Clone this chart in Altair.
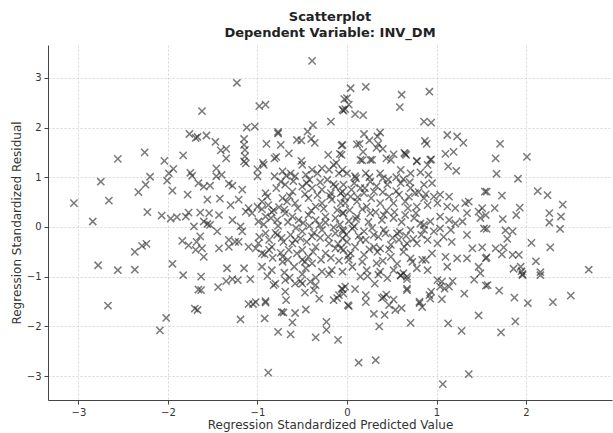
import altair as alt
import pandas as pd

# Outlying / sparse points (x = standardized predicted, y = standardized residual)
x_outer = [-2.56, -2.26, -2.04, -1.83, -1.76, -1.69, -0.39, -1.23, -1.62, -0.98, -0.91, -1.12, -1.03,
           -0.77, -0.77, -0.38, -0.18, -0.05, -0.03, -0.44, -0.40, -0.36, -0.56, -0.51, -0.90, -0.74,
           -0.65, -0.79, -0.81, -0.51, -0.21, -0.08, -0.05, -1.67, -1.57, -1.47, -1.41, -1.35, -1.35,
           -1.15, -1.15, -1.14, -1.14, -1.15, -0.94, -0.12,
           0.04, 0.21, 0.00, 0.02, -0.02, -0.04, 0.09, 0.18, 0.61, 0.59, 0.92, 0.86, 0.94, 1.12, 1.23,
           1.30, 1.10, 1.19, 0.87, 0.89, 0.65, 0.66, 0.64, 0.78, 0.94, 0.19, 0.14, 0.11, 0.37, 0.34,
           0.25, 0.35, 0.33, 0.40, 0.18, 0.52, 0.44, 0.17, 0.26, -0.06, -0.06,
           1.71, 1.66, 2.01,
           -1.94, -2.75, -3.05, -2.66, -2.84, -2.33, -2.25, -2.20, -2.01, -1.99, -1.95, -2.23, -2.07,
           -1.97, -1.90, -1.80, -1.77, -1.78, -1.75, -1.73, -1.71, -1.84, -1.77, -1.69, -1.68, -2.37,
           -2.29, -2.24, -2.78, -2.56, -2.37, -1.95, -1.83,
           -2.67, -2.02, -2.09, -1.70, -1.67, -1.66,
           1.57, 1.70, 1.87, 2.02, 2.30, 2.50, 1.88, 1.72, 1.96, 2.16,
           1.67, 1.91, 2.13, 2.24, 2.41, 1.73, 1.56, 1.65, 1.93, 1.89, 1.74, 1.55, 2.26, 2.26, 2.39,
           2.38, 1.56, 1.77, 1.85, 1.79, 2.06, 2.27, 1.66, 1.75, 1.73, 1.85, 1.92, 1.56, 2.11, 2.70,
           1.86, 1.94, 1.95, 1.96, 2.16,
           -1.63, -1.63, -1.44, -1.35, -1.28, -1.22, -1.08, -0.89, -1.10, -1.05, -1.02, -0.91, -0.91,
           -1.19, -0.92, -0.73, -0.71, -0.58, -0.46, -0.61, -0.77, -0.63, -0.35, -0.23, -0.23, -0.10,
           -0.88, -0.82, -0.80, -0.69, -0.68, -0.69, -0.64, -0.58, -0.52, -0.50, -0.47, -0.41, -0.37,
           -0.35, -0.31, -0.35, -0.15, -0.11, -0.09, -0.05,
           0.13, 0.32, 1.07, 1.36, 1.28, 1.13, 1.47, 1.31, 1.55, 1.42, 0.71, 0.36, 0.30, 0.42, 0.01,
           0.02, 0.21, 0.21, 0.39, 0.41, 0.44, 0.52, 0.54, 0.61, 0.47, 0.81, 0.84, 0.81, 0.92, 0.94,
           0.93, 1.06, 0.67, 0.67, 0.67, 1.01, 1.06, 1.09, 1.14, 1.18, 1.04, -0.06, -0.02, 0.09,
           -0.04, 0.31, 0.23, 0.45, 0.60, 0.67]
y_outer = [1.37, 1.50, 1.33, 1.44, 1.87, 1.79, 3.34, 2.90, 2.33, 2.43, 2.46, 2.00, 2.02,
           1.91, 1.88, 2.05, 2.12, 2.36, 2.57, 1.92, 1.77, 1.69, 1.75, 1.74, 1.67, 1.65,
           1.48, 1.41, 1.38, 1.33, 1.45, 1.47, 1.65, 1.81, 1.84, 1.71, 1.54, 1.57, 1.38,
           1.77, 1.65, 1.55, 1.42, 1.32, 1.29, 1.29,
           2.79, 2.82, 2.59, 2.46, 2.37, 2.34, 2.27, 2.25, 2.66, 2.41, 2.72, 2.12, 2.10, 1.85, 1.82,
           1.69, 1.47, 1.51, 1.73, 1.67, 1.47, 1.45, 1.49, 1.33, 1.36, 1.87, 1.67, 1.66, 1.90, 1.82,
           1.74, 1.67, 1.59, 1.57, 1.51, 1.46, 1.38, 1.34, 1.35, 1.64, 1.45,
           1.67, 1.38, 1.41,
           1.17, 0.91, 0.48, 0.53, 0.11, 0.70, 0.85, 1.01, 0.93, 1.08, 0.73, 0.30, 0.23,
           0.17, 0.20, 0.21, 0.29, 0.65, 1.09, 1.03, 0.01, -0.28, -0.37, -0.46, -0.30, -0.50,
           -0.38, -0.34, -0.77, -0.87, -0.86, -0.74, -0.97,
           -1.58, -1.83, -2.08, -1.64, -1.67, -1.26,
           -1.17, -1.28, -1.42, -1.53, -1.51, -1.38, -1.90, -2.12, -0.97, -0.97,
           1.07, 0.97, 0.72, 0.64, 0.45, 0.63, 0.71, 0.38, 0.39, 0.24, 0.16, 0.24, 0.28, 0.09, 0.21,
           -0.04, -0.04, -0.07, -0.09, -0.24, -0.32, -0.41, -0.43, -0.41, -0.55, -0.56, -0.56, -0.61, -0.69, -0.86,
           -0.84, -0.80, -0.89, -0.95, -0.91,
           -1.00, -1.27, -1.21, -1.09, -1.05, -1.07, -1.05, -0.99, -1.55, -1.55, -1.51, -1.49, -1.52,
           -1.86, -1.84, -1.71, -1.72, -1.73, -1.66, -1.92, -2.11, -2.16, -2.22, -1.91, -2.07, -2.27,
           -2.93, -1.17, -1.14, -1.30, -1.47, -1.07, -1.02, -1.14, -1.09, -1.14, -1.32, -1.10, -1.27,
           -1.17, -1.44, -1.02, -1.47, -1.43, -1.37, -1.25,
           -2.73, -2.68, -3.16, -2.96, -2.09, -1.94, -1.78, -1.34, -1.18, -1.06, -1.93, -2.00, -1.75, -1.77, -1.57,
           -1.59, -1.51, -1.37, -1.43, -1.41, -1.36, -1.46, -1.67, -1.63, -1.57, -1.50, -1.61, -1.53, -1.37, -1.30,
           -1.44, -1.45, -1.24, -1.27, -1.05, -1.07, -1.10, -1.24, -1.20, -1.09, -1.20, -1.24, -1.20, -1.25,
           -1.34, -1.14, -0.99, -1.03, -0.97, -1.00]

# Dense core, left half
x_core_l = [-1.13, -1.46, -1.40, -1.46, -1.00, -0.93, -1.00, -0.81, -0.72, -0.68, -0.63, -0.74, -0.58,
            -0.50, -0.46, -0.39, -0.42, -0.33, -0.28, -0.20, -0.15, -0.09, -0.05, -0.22,
            -1.66, -1.60, -1.53, -1.32, -1.28, -1.17, -0.91, -0.79, -0.69, -0.61, -0.50, -0.39, -0.28,
            -0.18, -0.13, -0.05,
            -1.56, -1.42, -1.30, -1.21, -1.10, -1.00, -0.95, -0.89, -0.82, -0.72, -0.67, -0.58, -0.43,
            -0.35, -0.28, -0.17, -0.07,
            -1.64, -1.54, -1.43, -1.60, -1.56, -1.53, -1.28, -1.19, -1.13, -1.06, -0.99, -0.91, -0.78,
            -0.69, -0.61, -0.54, -0.43, -0.35, -0.24, -0.13, -0.05,
            -1.64, -1.45, -1.32, -1.25, -1.17, -1.10, -0.99, -0.91, -0.87, -0.78, -0.71, -0.65, -0.58,
            -0.50, -0.39, -0.28, -0.20, -0.13, -0.04, -0.05,
            -1.62, -1.60, -1.43, -1.32, -1.21, -1.02, -0.95, -0.84, -0.72, -0.61, -0.50, -0.43, -0.35,
            -0.24, -0.13, -0.04,
            -1.34, -1.15, -0.95, -0.84, -0.72, -0.59, -0.46, -0.39, -0.28, -0.17, -0.05, -0.50]
y_core_l = [1.28, 1.18, 1.05, 1.02, 1.16, 1.25, 1.02, 1.02, 1.12, 1.03, 1.08, 0.91, 1.02,
            1.25, 1.05, 1.15, 0.95, 1.08, 1.18, 1.15, 1.25, 1.08, 1.15, 0.95,
            0.88, 0.81, 0.83, 0.87, 0.83, 0.75, 0.68, 0.78, 0.85, 0.71, 0.81, 0.78, 0.75,
            0.68, 0.81, 0.71,
            0.55, 0.57, 0.44, 0.55, 0.38, 0.41, 0.51, 0.61, 0.34, 0.58, 0.51, 0.48, 0.58,
            0.41, 0.48, 0.55, 0.48,
            0.29, 0.28, 0.24, 0.11, 0.06, 0.04, 0.14, 0.01, 0.31, 0.28, 0.11, 0.21, 0.14,
            0.28, 0.21, 0.14, 0.24, 0.14, 0.21, 0.18, 0.28,
            -0.19, -0.09, -0.26, -0.30, -0.09, -0.40, -0.33, -0.13, -0.46, -0.16, -0.30, -0.46, -0.26,
            -0.09, -0.19, -0.06, -0.33, -0.13, -0.09, -0.23,
            -0.43, -0.60, -0.43, -0.40, -0.30, -0.43, -0.53, -0.40, -0.60, -0.33, -0.46, -0.60, -0.40,
            -0.53, -0.43, -0.46,
            -0.83, -0.83, -0.80, -0.87, -0.70, -0.80, -0.83, -0.73, -0.90, -0.87, -0.90, -0.66]

# Dense core, right half
x_core_r = [0.15, 0.28, 0.49, 0.78, 0.90, 0.93, 1.13, 1.22, 0.00, 0.09, 0.21, 0.37, 0.60, 0.71, 0.82, 0.91,
            -0.04, 0.08, 0.15, 0.26, 0.45, 0.60, 0.71, 0.86, 0.95,
            -0.07, 0.04, 0.19, 0.30, 0.47, 0.58, 0.69, 0.76, 0.86, 0.97, 1.04, 1.14, 1.54,
            -0.02, 0.11, 0.22, 0.37, 0.52, 0.65, 0.78, 0.90, 1.01, 1.12, 1.21, 1.32, 1.36, 1.47, 1.51,
            -0.04, 0.11, 0.26, 0.41, 0.52, 0.65, 0.75, 0.82, 0.93, 1.04, 1.14, 1.21, 1.29, 1.34, 1.49, 1.53,
            -0.05, 0.08, 0.19, 0.30, 0.41, 0.56, 0.71, 0.86, 0.97, 1.04, 1.16, 1.34,
            0.00, 0.15, 0.30, 0.37, 0.49, 0.58, 0.67, 0.78, 0.90, 1.01, 1.08, 1.17,
            -0.07, 0.04, 0.19, 0.34, 0.49, 0.63, 0.71, 0.84, 0.88, 0.95, 1.10, 1.23, 1.34, 1.40, 1.51, 1.55,
            0.06, 0.22, 0.37, 0.52, 0.63, 0.78, 0.90, 1.12, 1.47, 1.49]
y_core_r = [1.35, 1.35, 1.35, 1.32, 1.25, 1.35, 1.22, 1.13, 1.08, 1.02, 1.08, 1.08, 1.15, 1.08, 1.10, 1.05,
            0.85, 0.88, 0.78, 0.91, 0.85, 0.88, 0.78, 0.85, 0.88,
            0.68, 0.61, 0.68, 0.71, 0.61, 0.65, 0.61, 0.68, 0.58, 0.61, 0.65, 0.61, 0.71,
            0.48, 0.51, 0.41, 0.48, 0.48, 0.51, 0.41, 0.44, 0.48, 0.41, 0.38, 0.48, 0.51, 0.31, 0.38,
            0.28, 0.21, 0.28, 0.24, 0.18, 0.24, 0.18, 0.07, 0.11, 0.21, 0.14, 0.07, 0.11, 0.28, 0.18, -0.03,
            -0.06, 0.01, -0.09, -0.16, -0.06, -0.13, -0.06, -0.06, -0.09, -0.03, -0.06, -0.16,
            -0.30, -0.26, -0.40, -0.43, -0.36, -0.26, -0.33, -0.33, -0.26, -0.33, -0.20, -0.30,
            -0.43, -0.53, -0.56, -0.50, -0.60, -0.50, -0.63, -0.66, -0.66, -0.53, -0.60, -0.63, -0.63, -0.43, -0.41, -0.63,
            -0.80, -0.87, -0.90, -0.87, -0.93, -0.83, -0.87, -0.80, -0.80, -0.93]

# Additional points in the darkest part of the cloud
x_core_m = [-0.95, -0.88, -0.84, -0.76, -0.70, -0.64, -0.55, -0.47, -0.40, -0.33, -0.26, -0.19, -0.11, -0.03,
            -0.93, -0.85, -0.77, -0.66, -0.57, -0.49, -0.42, -0.31, -0.24, -0.15, -0.08, 0.02,
            -0.98, -0.87, -0.80, -0.73, -0.63, -0.52, -0.45, -0.37, -0.30, -0.21, -0.10, -0.01,
            -0.92, -0.83, -0.74, -0.66, -0.56, -0.47, -0.38, -0.29, -0.18, -0.09, 0.01,
            0.05, 0.12, 0.20, 0.27, 0.33, 0.40, 0.46, 0.55, 0.63, 0.70, 0.80, 0.88,
            0.03, 0.10, 0.17, 0.24, 0.32, 0.39, 0.44, 0.53, 0.61, 0.68, 0.77, 0.86,
            0.06, 0.13, 0.21, 0.28, 0.35, 0.43, 0.51, 0.59, 0.66, 0.74, 0.83,
            0.02, 0.09, 0.17, 0.25, 0.33, 0.40, 0.47, 0.56, 0.64, 0.73,
            -0.60, -0.45, -0.30, -0.15, 0.10, 0.25, 0.40, 0.55, -0.70, -0.50, -0.20, 0.15, 0.35, 0.60]
y_core_m = [0.36, 0.44, 0.30, 0.40, 0.35, 0.62, 0.38, 0.66, 0.33, 0.64, 0.37, 0.62, 0.34, 0.60,
            0.05, 0.18, 0.02, 0.10, -0.02, 0.08, 0.02, 0.04, 0.09, -0.01, 0.05, 0.12,
            -0.20, -0.26, -0.12, -0.22, -0.16, -0.23, -0.30, -0.12, -0.22, -0.20, -0.34, -0.16,
            -0.55, -0.62, -0.52, -0.66, -0.53, -0.70, -0.50, -0.66, -0.62, -0.68, -0.58,
            0.75, 0.60, 0.78, 0.58, 0.82, 0.70, 0.95, 0.72, 0.96, 0.90, 0.70, 0.66,
            0.34, 0.16, 0.36, 0.10, 0.30, 0.14, 0.33, 0.30, 0.10, 0.38, 0.28, 0.04,
            -0.03, -0.18, -0.26, -0.02, -0.20, -0.13, -0.22, -0.10, -0.18, -0.24, -0.16,
            -0.66, -0.40, -0.70, -0.45, -0.73, -0.68, -0.45, -0.74, -0.40, -0.70,
            0.92, 0.88, 0.90, 0.86, 0.98, 1.00, 0.98, 1.00, -0.92, -0.95, -0.95, -1.00, -0.96, -0.98]

x_ticks = [-3, -2, -1, 0, 1, 2]
y_ticks = [-3, -2, -1, 0, 1, 2, 3]

df = pd.DataFrame({
    "pred": x_outer + x_core_l + x_core_r + x_core_m,
    "resid": y_outer + y_core_l + y_core_r + y_core_m,
})

FONT = "DejaVu Sans"
XMARK = "M-1,-1L1,1M-1,1L1,-1"

chart = alt.Chart(df).mark_point(
    shape=XMARK, filled=False, stroke="#222222", strokeWidth=1.5, opacity=0.6, size=52
).encode(
    x=alt.X("pred:Q",
            scale=alt.Scale(domain=[-3.34, 2.96], nice=False, zero=False),
            axis=alt.Axis(values=x_ticks, title="Regression Standardized Predicted Value", format="d")),
    y=alt.Y("resid:Q",
            scale=alt.Scale(domain=[-3.48, 3.66], nice=False, zero=False),
            axis=alt.Axis(values=y_ticks, title="Regression Standardized Residual", format="d")),
).properties(
    width=564, height=355,
    title=alt.TitleParams(["Scatterplot", "Dependent Variable: INV_DM"], anchor="middle",
                          fontSize=13, fontWeight="bold", font=FONT, color="#222222",
                          lineHeight=16, offset=5, frame="group"),
    padding={"left": 48, "top": 45, "right": 1, "bottom": 33},
    autosize=alt.AutoSizeParams(type="none"),
).configure_view(stroke=None).configure_axis(
    labelFont=FONT, titleFont=FONT, labelFontSize=10, titleFontSize=12,
    labelColor="#333333", titleColor="#333333", titleFontWeight="normal",
    domainColor="#444444", tickColor="#444444", tickSize=4,
    grid=True, gridColor="#cccccc", gridDash=[2, 2], gridWidth=0.8,
).configure_axisX(titlePadding=2, labelPadding=3).configure_axisY(titlePadding=3, labelPadding=3)

chart.save("out.html", embed_options={"renderer": "svg", "actions": False})
